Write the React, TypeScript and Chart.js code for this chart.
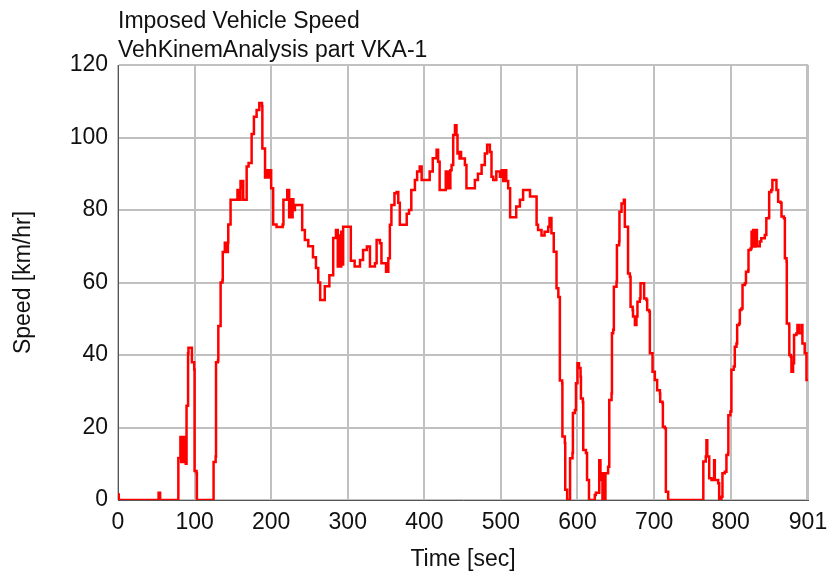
import React, { useEffect, useRef } from "react";
import { Chart, registerables } from "chart.js";

Chart.register(...registerables);

const titleLines = ["Imposed Vehicle Speed", "VehKinemAnalysis part VKA-1"];
const xAxisTitle = "Time [sec]";
const yAxisTitle = "Speed [km/hr]";
const xTickValues = [0, 100, 200, 300, 400, 500, 600, 700, 800, 900, 901];
const hiddenXTick = 900;
const xMin = 0;
const xMax = 901;
const yMin = 0;
const yMax = 120;
const yStep = 20;

const timeSec = [
  0, 1, 53, 53, 55, 55, 78.5, 78.8, 81, 81.5, 82.5, 83.5, 84.5, 85.5, 86.5, 87.5, 88.5, 89, 89.5, 91,
  91.5, 92, 95.5, 96.5, 99.5, 100, 102.6, 103, 124.5, 124.8, 127.5, 128, 130.5, 131, 133.5, 134, 136.4, 136.8, 139, 139.5,
  140.5, 141.5, 142.5, 143.5, 144, 146.5, 147, 155.5, 156, 157, 157.5, 159.5, 160, 161.5, 162.5, 163.5, 167.5, 168, 170.5, 174.5,
  177.5, 181, 184.5, 188, 188.5, 191.5, 192, 194, 196, 198, 200, 202.6, 207, 215, 216, 221, 222.5, 223.5, 225, 226.5,
  228, 229, 231, 240, 240.5, 244, 248.5, 254.6, 258.5, 261.5, 264, 268, 270, 276, 281, 284.6, 286, 287, 288.5, 290,
  291.5, 293, 294, 303, 304, 309, 316, 320, 325, 329, 335.5, 337.7, 342, 344, 350, 353, 355, 357, 361, 363.8,
  366, 368, 372, 377, 380, 383, 387.7, 390.6, 394, 396.5, 405, 407, 411, 416, 418, 420, 427, 428, 429.5, 431,
  432.5, 434, 435.6, 437.7, 440, 442, 443.3, 445, 446, 447, 448, 453, 455, 461, 466, 470, 474.8, 479, 482, 485.6,
  487.7, 490, 494, 498.7, 501, 503, 505, 507, 509.5, 512, 518, 520, 524.8, 529, 535, 538, 543, 546.6, 548.5, 553,
  557, 561.8, 563.5, 565, 566, 569, 572.6, 575, 577, 580, 580.3, 583.5, 584, 586.5, 590, 590.3, 593.5, 594, 596.6, 598,
  600, 602, 604, 604.5, 607, 607.5, 611, 612.5, 615, 620, 622.6, 624, 628.4, 630, 631, 632.6, 634.3, 635.7, 636.5, 640,
  641.5, 644.5, 645, 646.6, 647.5, 651, 651.5, 654.4, 654.8, 657.5, 660.5, 661.8, 664.8, 666, 668.4, 669.3, 672, 672.5, 675, 677,
  678.3, 681.4, 682.3, 685.7, 687, 690, 691, 693.5, 694.5, 698, 701, 704, 707.6, 708, 711, 711.5, 714, 715.4, 718.4, 764,
  764.3, 767.5, 768.4, 769.5, 772, 775, 776, 778.4, 779.3, 783.7, 785, 788, 789.3, 792.4, 794.5, 796.7, 797, 799.7, 801, 804,
  805.4, 807.6, 808.5, 811, 812, 814, 815.5, 818.5, 820, 823, 823.3, 826, 827.3, 829.4, 830, 832.6, 834.3, 836, 838, 840,
  844.6, 846.6, 850, 850.3, 853, 854.5, 859, 859.8, 862, 865, 866.4, 869.5, 870.8, 873, 873.3, 876.3, 876.6, 878.5, 879.4, 881.5,
  882.8, 885.9, 887.2, 889, 892.4, 893.7, 896.7, 899, 901,
];

const speedKmh = [
  1.5, 0, 0, 2, 2, 0, 0, 11.6, 11.6, 17.4, 10.5, 17.4, 10.5, 17.4, 10.5, 17.4, 10, 10, 26, 26,
  40.5, 42, 42, 38, 36, 8, 7.4, 0, 0, 10.5, 12, 38, 38.5, 48, 48, 60, 60.7, 68.4, 68.4, 71,
  68.4, 71, 68.4, 71, 76, 76, 82.8, 82.8, 85.5, 85.5, 82.8, 82.8, 88, 86, 88, 82.8, 82.8, 92, 93, 101,
  105.7, 107.6, 109.5, 108.7, 97, 97, 89, 91, 89, 91, 86, 76, 75.3, 76, 82.8, 85.5, 85.5, 78, 83, 78,
  83, 80, 81.4, 81.4, 74.5, 71.7, 70, 67, 64, 60, 55.2, 55.2, 59, 62, 72.3, 74.5, 74.5, 64.4, 73, 64.4,
  74, 65, 75.4, 75.4, 66, 64.4, 66.2, 69, 69.9, 64.4, 65.3, 71.7, 70.8, 65.3, 63, 66.7, 75.9, 81.4, 84.6, 85,
  82, 75.9, 75.9, 79, 80, 85.5, 88.3, 90.6, 92, 88.3, 88.3, 90.6, 94.3, 96.6, 93.3, 85.5, 85.5, 90.6, 86, 90.6,
  86, 91, 92.4, 100.7, 103.4, 100.7, 95.6, 96, 94.2, 96, 94.2, 92.4, 86, 86, 88.3, 90, 92.4, 95.6, 98, 96,
  89.2, 88.3, 90.6, 89.2, 91, 88, 91, 88, 86, 78, 78, 81, 82.8, 85.5, 85.5, 83.7, 83.7, 75.9, 74.5, 73,
  74, 75.4, 77.8, 77.8, 73.6, 68.5, 58.4, 56, 33, 32.2, 17.5, 15.7, 2.8, 0, 0, 11.5, 13, 24, 24.8, 32.2,
  37.7, 36.4, 34, 28, 27, 13.8, 13, 5.5, 0, 0, 1.4, 2, 11, 5.5, 7.4, 0, 7.4, 0, 7.4, 9.2,
  27.6, 29.4, 46, 47, 58.8, 60.2, 70.3, 71.3, 79.5, 81.8, 82.8, 75.4, 75.4, 62.5, 61.6, 53.3, 52.4, 50.6, 48.3, 50.6,
  54.7, 55.6, 59.8, 59.8, 55.6, 55.2, 52.4, 52, 40.5, 35.4, 33.1, 30.3, 29.4, 27.1, 26.7, 20.2, 19.8, 2.3, 0, 0,
  10.6, 12, 16.5, 12, 6, 5.5, 5.5, 11, 5.5, 4.6, 0, 0.9, 7.4, 7.8, 12.4, 12.9, 23.4, 24.4, 35.9, 36.8,
  42.3, 43.2, 48.3, 48.7, 52.4, 52.8, 59.3, 59.8, 63, 63.4, 69, 69.4, 74, 74.5, 69.9, 74.5, 70, 70, 71.3, 72.2,
  73.1, 77.7, 78, 85, 85.5, 88.3, 88.3, 85.5, 82.3, 82, 78.2, 77.7, 66.7, 65.8, 48.7, 48.3, 40, 39.5, 35.4, 37.7,
  45.5, 46, 48.3, 46, 48.3, 43.2, 40.5, 33.1, 33,
];

const FONT_FAMILY = "'Liberation Sans', Arial, Helvetica, sans-serif";

export default function App() {
  const canvasRef = useRef<HTMLCanvasElement | null>(null);

  useEffect(() => {
    document.body.style.margin = "0";
    const canvas = canvasRef.current;
    if (!canvas) return;

    const titlePlugin = {
      id: "twoLineTitle",
      afterDraw(chart: any) {
        const ctx = chart.ctx;
        ctx.save();
        ctx.font = `23px ${FONT_FAMILY}`;
        ctx.fillStyle = "#111111";
        ctx.textAlign = "left";
        ctx.textBaseline = "alphabetic";
        ctx.fillText(titleLines[0], chart.chartArea.left, 28);
        ctx.fillText(titleLines[1], chart.chartArea.left, 57);
        ctx.restore();
      },
    };

    const points = timeSec.map((t, i) => ({ x: t, y: speedKmh[i] }));

    const chart = new Chart(canvas, {
      type: "line",
      data: {
        datasets: [
          {
            data: points,
            borderColor: "#ff0000",
            borderWidth: 2.5,
            pointRadius: 0,
            tension: 0,
            stepped: true,
            fill: false,
          },
        ],
      },
      options: {
        animation: false,
        responsive: false,
        layout: { padding: { top: 65, right: 25, bottom: 0, left: 0 } },
        plugins: {
          legend: { display: false },
          tooltip: { enabled: false },
          title: { display: false },
        },
        scales: {
          x: {
            type: "linear",
            min: xMin,
            max: xMax,
            afterBuildTicks: (scale: any) => {
              scale.ticks = xTickValues.map((v) => ({ value: v }));
            },
            afterFit: (scale: any) => {
              scale.height = 76;
              scale.paddingLeft = 0;
              scale.paddingRight = 0;
            },
            ticks: {
              autoSkip: false,
              maxRotation: 0,
              padding: 9,
              color: "#111111",
              font: { family: FONT_FAMILY, size: 23 },
              callback: (v: any) => (Number(v) === hiddenXTick ? "" : String(v)),
            },
            grid: { color: "#c0c0c0", lineWidth: 2, drawTicks: false },
            border: { color: "#555555", width: 1 },
            title: {
              display: true,
              text: xAxisTitle,
              color: "#111111",
              font: { family: FONT_FAMILY, size: 23 },
              padding: { top: 0, bottom: 3 },
            },
          },
          y: {
            type: "linear",
            min: yMin,
            max: yMax,
            afterFit: (scale: any) => {
              scale.width = 118;
              scale.paddingTop = 0;
              scale.paddingBottom = 0;
            },
            ticks: {
              stepSize: yStep,
              padding: 10,
              color: "#111111",
              font: { family: FONT_FAMILY, size: 23 },
            },
            grid: { color: "#c0c0c0", lineWidth: 2, drawTicks: false },
            border: { color: "#555555", width: 1 },
            title: {
              display: true,
              text: yAxisTitle,
              color: "#111111",
              font: { family: FONT_FAMILY, size: 23 },
              padding: { top: 10, bottom: 0 },
            },
          },
        },
      },
      plugins: [titlePlugin],
    } as any);

    return () => {
      chart.destroy();
    };
  }, []);

  return (
    <div style={{ width: 833, height: 576 }}>
      <canvas ref={canvasRef} width={833} height={576} />
    </div>
  );
}
